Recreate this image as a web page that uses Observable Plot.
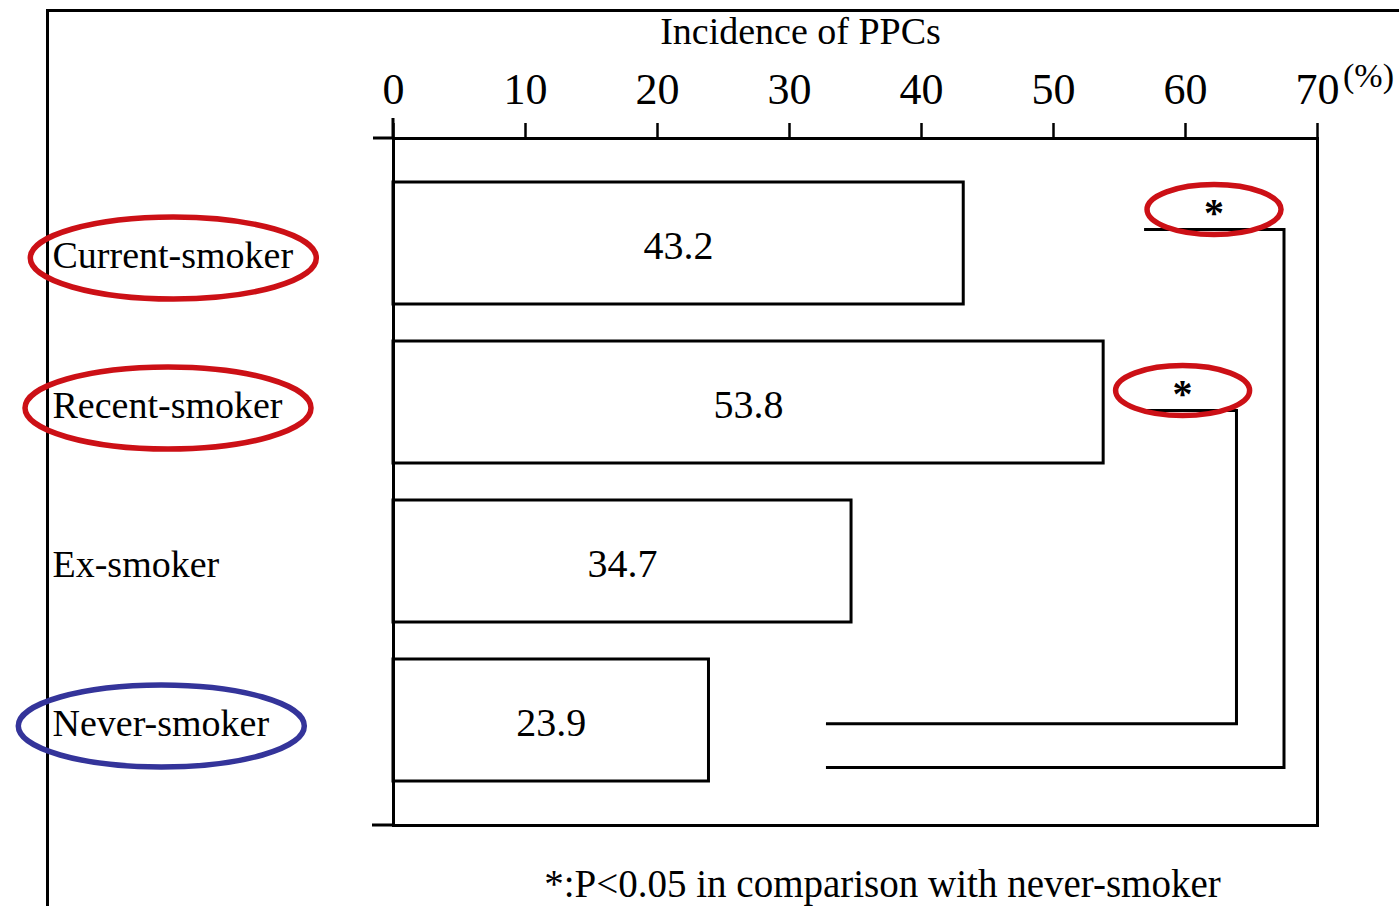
<!DOCTYPE html>
<html>
<head>
<meta charset="utf-8">
<script src="https://cdn.jsdelivr.net/npm/d3@7"></script>
<script src="https://cdn.jsdelivr.net/npm/@observablehq/plot@0.6"></script>
<style>
  html, body { margin: 0; padding: 0; background: #fff; }
  #chart svg { display: block; }
</style>
</head>
<body>
<div id="chart"></div>
<script>
// Incidence of postoperative pulmonary complications by smoking status
const groups = ["Current-smoker", "Recent-smoker", "Ex-smoker", "Never-smoker"];
const incidence = [43.2, 53.8, 34.7, 23.9];
const xTicks = [0, 10, 20, 30, 40, 50, 60, 70];
const axisTitle = "Incidence of PPCs";
const unitLabel = "(%)";
const footnote = "*:P<0.05 in comparison with never-smoker";
const sigSymbol = "*";

// Significance brackets: each links a smoker group to the never-smoker group
const bracketFrom = ["Current-smoker", "Recent-smoker"];
const bracketTo = ["Never-smoker", "Never-smoker"];
const bracketStart = [56.9, 57.1]; // left end of the upper arm
const bracketSide = [67.5, 63.9];  // vertical arm
const bracketEnd = [32.8, 32.8];   // left end of the lower arm

// Groups circled by hand, with their pen colours
const circledGroups = ["Current-smoker", "Recent-smoker", "Never-smoker"];
const circleColors = ["#cc1016", "#cc1016", "#34349a"];

const data = groups.map((group, i) => ({group, value: incidence[i]}));
const brackets = bracketFrom.map((from, i) => ({
  from, to: bracketTo[i], start: bracketStart[i], side: bracketSide[i], end: bracketEnd[i]
}));

// --- layout ---------------------------------------------------------------
const W = 1399, H = 906;
const M = {top: 138, right: 82, bottom: 81, left: 393};
const SERIF = "'Liberation Serif', 'Times New Roman', serif";
const labelX = 52;                       // left edge of the group labels
const labelNudge = {"Current-smoker": 12, "Recent-smoker": 3, "Ex-smoker": 3, "Never-smoker": 3};
const armTop = [0.39, 0.57];             // upper arm height inside its band
const armBottom = [0.89, 0.53];          // lower arm height inside its band
const starShift = [0, -9];               // horizontal nudge of each asterisk, px
const ink = 3;

// Page border and the short extensions of the axis box
function decorations(index, scales, values, dim) {
  const g = d3.create("svg:g").attr("fill", "none").attr("stroke", "black");
  g.append("path").attr("stroke-width", 3)
    .attr("d", `M47.5,${dim.height}V10.5H${dim.width}`);
  const l = dim.marginLeft, t = dim.marginTop, b = dim.height - dim.marginBottom;
  g.append("path").attr("stroke-width", ink)
    .attr("d", `M${l - 20},${t}H${l}M${l - 21},${b}H${l}M${l},${t - 20}V${t}`);
  return g.node();
}

// Significance brackets drawn on the x and y scales
function bracketMark(index, {x, y}) {
  const bw = y.bandwidth();
  const g = d3.create("svg:g").attr("fill", "none").attr("stroke", "black").attr("stroke-width", ink);
  brackets.forEach((b, i) => {
    const y0 = y(b.from) + armTop[i] * bw;
    const y1 = y(b.to) + armBottom[i] * bw;
    g.append("path").attr("d", `M${x(b.start)},${y0}H${x(b.side)}V${y1}H${x(b.end)}`);
  });
  brackets.forEach((b, i) => {
    const y0 = y(b.from) + armTop[i] * bw;
    g.append("text")
      .attr("x", x((b.start + b.side) / 2) + starShift[i]).attr("y", y0 - 4)
      .attr("text-anchor", "middle")
      .attr("stroke", "none").attr("fill", "black")
      .attr("font-family", SERIF).attr("font-size", 40).attr("font-weight", "bold")
      .text(sigSymbol);
  });
  return g.node();
}

// Hand-drawn ellipses around the circled labels and the asterisks
function circleMark(index, {x, y}, values, dim) {
  const bw = y.bandwidth();
  const ctx = document.createElement("canvas").getContext("2d");
  ctx.font = `38px ${SERIF}`;
  const g = d3.create("svg:g").attr("fill", "none").attr("stroke-width", 5.5);
  circledGroups.forEach((grp, i) => {
    const w = ctx.measureText(grp).width;
    g.append("ellipse")
      .attr("cx", labelX + w / 2 + 1)
      .attr("cy", y(grp) + bw / 2 + labelNudge[grp] + 3)
      .attr("rx", 143).attr("ry", 41)
      .attr("stroke", circleColors[i]);
  });
  brackets.forEach((b, i) => {
    const y0 = y(b.from) + armTop[i] * bw;
    g.append("ellipse")
      .attr("cx", x((b.start + b.side) / 2) + starShift[i])
      .attr("cy", y0 - 20)
      .attr("rx", 67).attr("ry", 25)
      .attr("stroke", "#cc1016");
  });
  return g.node();
}

const chart = Plot.plot({
  width: W,
  height: H,
  marginTop: M.top,
  marginRight: M.right,
  marginBottom: M.bottom,
  marginLeft: M.left,
  style: {fontFamily: SERIF, fontSize: "38px", color: "black", background: "white"},
  x: {domain: [0, 70], axis: null},
  y: {domain: groups, paddingInner: 0.234, paddingOuter: 0.276, axis: null},
  marks: [
    decorations,
    Plot.barX(data, {x: "value", y: "group", fill: "white", stroke: "black", strokeWidth: ink}),
    Plot.frame({stroke: "black", strokeWidth: ink}),
    Plot.axisX(xTicks, {
      anchor: "top", tickSize: 16, tickPadding: 19, strokeWidth: 2.5,
      fontSize: 44, tickFormat: d => String(d), label: null
    }),
    Plot.text([unitLabel], {x: 70, frameAnchor: "top", text: d => d, dx: 51, dy: -76, fontSize: 34}),
    Plot.text([axisTitle], {frameAnchor: "top", text: d => d, dx: -55, dy: -121, fontSize: 38}),
    Plot.text(data, {x: d => d.value / 2, y: "group", text: d => d.value.toFixed(1), fontSize: 40, dy: 3}),
    ...groups.map(grp => Plot.text([grp], {
      y: d => d, text: d => d, frameAnchor: "left", textAnchor: "start",
      dx: labelX - M.left, dy: labelNudge[grp], fontSize: 38
    })),
    bracketMark,
    circleMark,
    Plot.text([footnote], {frameAnchor: "bottom", text: d => d, dx: 27, dy: 71, fontSize: 39})
  ]
});

document.getElementById("chart").append(chart);
</script>
</body>
</html>
